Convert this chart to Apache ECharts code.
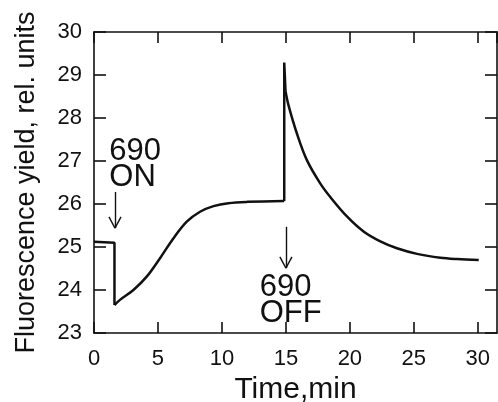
<!DOCTYPE html>
<html>
<head>
<meta charset="utf-8">
<script src="https://cdn.jsdelivr.net/npm/echarts@6/dist/echarts.min.js"></script>
<style>
html,body{margin:0;padding:0;background:#fff;}
#chart{width:498px;height:402px;}
</style>
</head>
<body>
<div id="chart"></div>
<script>
// ---- data ----
var xTicks = [0, 5, 10, 15, 20, 25, 30];
var yTicks = [23, 24, 25, 26, 27, 28, 29, 30];
// before light on, then the drop when 690 nm light turns on
var darkStart = [[0, 25.12], [1.6, 25.10], [1.6, 23.65]];
// recovery under 690 nm light
var recovery = [[1.6, 23.65], [2.03, 23.77], [3.08, 24.0], [4.12, 24.31], [5.16, 24.74], [6.2, 25.2],
  [7.25, 25.59], [8.29, 25.82], [9.34, 25.95], [10.5, 26.02], [12.0, 26.05], [14.87, 26.07]];
// jump when 690 nm light turns off, with the fast initial spike
var jump = [[14.87, 26.07], [14.87, 29.29], [14.97, 28.62]];
// decay after light off
var decay = [[14.97, 28.62], [15.2, 28.30], [15.86, 27.64], [16.64, 27.02], [17.68, 26.48],
  [18.5, 26.15], [19.77, 25.71], [21.07, 25.36], [22.38, 25.13], [23.68, 24.97], [25.25, 24.84],
  [27.07, 24.75], [28.38, 24.72], [30.07, 24.70]];
// annotation arrows (data coordinates)
var arrowOn = [[1.64, 26.28], [1.64, 25.44]];
var arrowOnHead = [[[1.17, 25.70], [1.64, 25.44]], [[2.11, 25.70], [1.64, 25.44]]];
var arrowOff = [[15.0, 25.47], [15.0, 24.51]];
var arrowOffHead = [[[14.53, 24.77], [15.0, 24.51]], [[15.47, 24.77], [15.0, 24.51]]];
var labelOn = {text: '690\nON', at: [1.2, 27.53]};
var labelOff = {text: '690\nOFF', at: [12.95, 24.37]};

var FONT = 'Liberation Sans';
var black = '#111';

function seg(data, smooth) {
  return {type: 'line', data: data, showSymbol: false, symbol: 'none', smooth: smooth,
    lineStyle: {color: black, width: 2.5}, xAxisIndex: 0, yAxisIndex: 0, silent: true, z: 3};
}
function lineMark(pairs) {
  return pairs.map(function (p) { return [{coord: p[0]}, {coord: p[1]}]; });
}

var chart = echarts.init(document.getElementById('chart'), null, {renderer: 'canvas'});
var tickStyle = {color: black, width: 1.6};
chart.setOption({
  animation: false,
  backgroundColor: '#fff',
  grid: {left: 94, top: 32, width: 403, height: 301, containLabel: false, outerBoundsMode: 'none'},
  xAxis: [
    {type: 'value', min: 0, max: 31.5, interval: 5, position: 'bottom',
      name: 'Time,min', nameLocation: 'middle', nameGap: 38,
      nameTextStyle: {fontFamily: FONT, fontSize: 30, color: black},
      axisLine: {show: true, onZero: false, lineStyle: tickStyle},
      axisTick: {show: true, inside: true, length: 11, lineStyle: tickStyle},
      axisLabel: {show: true, inside: false, margin: 15, fontFamily: FONT, fontSize: 22, color: black, showMaxLabel: false,
        formatter: function (v) { return xTicks.indexOf(v) >= 0 ? String(v) : ''; }},
      splitLine: {show: false}},
    {type: 'value', min: 0, max: 31.5, interval: 5, position: 'top',
      axisLine: {show: true, onZero: false, lineStyle: tickStyle},
      axisTick: {show: true, inside: true, length: 11, lineStyle: tickStyle},
      axisLabel: {show: false}, splitLine: {show: false}}
  ],
  yAxis: [
    {type: 'value', min: 23, max: 30, interval: 1, position: 'left',
      name: 'Fluorescence yield, rel. units', nameLocation: 'middle', nameGap: 54, nameRotate: 90,
      nameTextStyle: {fontFamily: FONT, fontSize: 27, color: black},
      axisLine: {show: true, onZero: false, lineStyle: tickStyle},
      axisTick: {show: true, inside: true, length: 12, lineStyle: tickStyle},
      axisLabel: {show: true, inside: false, margin: 12, fontFamily: FONT, fontSize: 22, color: black,
        formatter: function (v) { return yTicks.indexOf(v) >= 0 ? String(v) : ''; }},
      splitLine: {show: false}},
    {type: 'value', min: 23, max: 30, interval: 1, position: 'right',
      axisLine: {show: true, onZero: false, lineStyle: tickStyle},
      axisTick: {show: true, inside: true, length: 12, lineStyle: tickStyle},
      axisLabel: {show: false}, splitLine: {show: false}}
  ],
  series: [
    seg(darkStart, false),
    seg(recovery, 0.35),
    seg(jump, false),
    seg(decay, 0.35),
    {
      type: 'line', data: [], xAxisIndex: 0, yAxisIndex: 0, silent: true,
      markLine: {
        silent: true, symbol: ['none', 'none'], animation: false,
        lineStyle: {color: black, width: 1.4, type: 'solid'},
        label: {show: false},
        data: [[{coord: arrowOn[0]}, {coord: arrowOn[1]}], [{coord: arrowOff[0]}, {coord: arrowOff[1]}]]
          .concat(lineMark(arrowOnHead)).concat(lineMark(arrowOffHead))
      },
      markPoint: {
        silent: true, symbol: 'circle', symbolSize: 0, animation: false,
        label: {show: true, position: 'inside', align: 'left', verticalAlign: 'top',
          fontFamily: FONT, fontSize: 31, lineHeight: 26, color: black},
        data: [
          {coord: labelOn.at, value: 0, label: {formatter: labelOn.text}},
          {coord: labelOff.at, value: 0, label: {formatter: labelOff.text}}
        ]
      }
    }
  ]
});
</script>
</body>
</html>
